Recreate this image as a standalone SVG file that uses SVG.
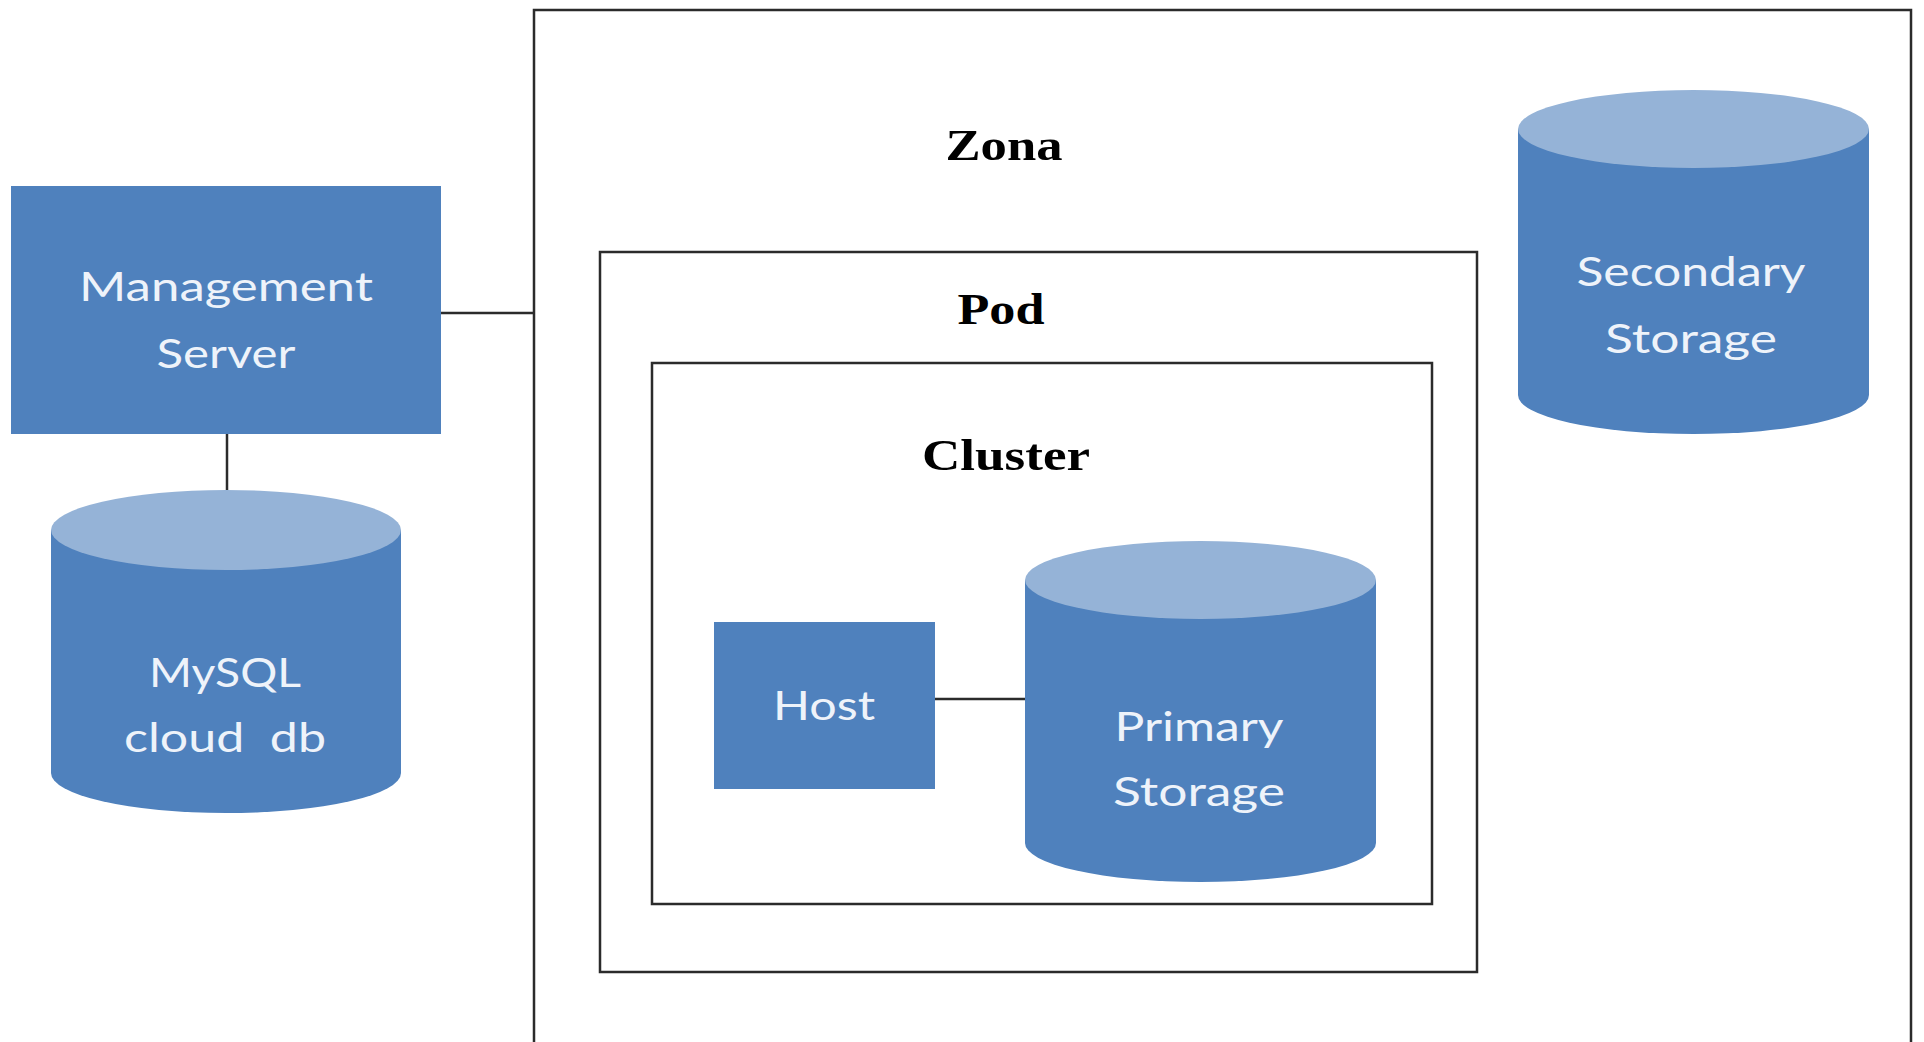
<svg xmlns="http://www.w3.org/2000/svg" width="1924" height="1042" viewBox="0 0 1924 1042">
<style>
.frame{fill:none;stroke:#2b2b2b;stroke-width:2.5}
.box{fill:#4F81BD}
.top{fill:#95B3D7}
.lbl{font-family:Lato,"Open Sans",sans-serif;font-size:40px;fill:#EEF3FA;text-anchor:middle}
.hdr{font-family:"Liberation Serif","DejaVu Serif",serif;font-weight:bold;font-size:44px;fill:#000;text-anchor:middle}
.conn{stroke:#2b2b2b;stroke-width:2.5;fill:none}
</style>
<rect width="1924" height="1042" fill="#fff"/>
<g id="zona">
<rect class="frame" x="534" y="10" width="1377" height="1060"/>
<text class="hdr" x="1004" y="160" textLength="117" lengthAdjust="spacingAndGlyphs">Zona</text>
</g>
<g id="pod">
<rect class="frame" x="600" y="252" width="877" height="720"/>
<text class="hdr" x="1001" y="324" textLength="87" lengthAdjust="spacingAndGlyphs">Pod</text>
</g>
<g id="cluster">
<rect class="frame" x="652" y="363" width="780" height="541"/>
<text class="hdr" x="1006" y="470" textLength="168" lengthAdjust="spacingAndGlyphs">Cluster</text>
</g>
<g id="connectors">
<line class="conn" x1="441" y1="313" x2="534" y2="313"/>
<line class="conn" x1="227" y1="434" x2="227" y2="492"/>
<line class="conn" x1="935" y1="699" x2="1026" y2="699"/>
</g>
<g id="management-server">
<rect class="box" x="11" y="186" width="430" height="248"/>
<text class="lbl" x="226" y="301" textLength="294" lengthAdjust="spacingAndGlyphs">Management</text>
<text class="lbl" x="226" y="368" textLength="139" lengthAdjust="spacingAndGlyphs">Server</text>
</g>
<g id="mysql">
<path class="box" d="M51 530 V773 A175 40 0 0 0 401 773 V530 Z"/>
<ellipse class="top" cx="226" cy="530" rx="175" ry="40"/>
<text class="lbl" x="225" y="687" textLength="152" lengthAdjust="spacingAndGlyphs">MySQL</text>
<text class="lbl" x="225" y="752" textLength="202" lengthAdjust="spacingAndGlyphs" xml:space="preserve">cloud  db</text>
</g>
<g id="secondary-storage">
<path class="box" d="M1518 129 V395 A175 39 0 0 0 1869 395 V129 Z"/>
<ellipse class="top" cx="1693.5" cy="129" rx="175.5" ry="39"/>
<text class="lbl" x="1691" y="286" textLength="229" lengthAdjust="spacingAndGlyphs">Secondary</text>
<text class="lbl" x="1691" y="353" textLength="172" lengthAdjust="spacingAndGlyphs">Storage</text>
</g>
<g id="host">
<rect class="box" x="714" y="622" width="221" height="167"/>
<text class="lbl" x="824" y="720" textLength="102" lengthAdjust="spacingAndGlyphs">Host</text>
</g>
<g id="primary-storage">
<path class="box" d="M1025 580 V843 A175.5 39 0 0 0 1376 843 V580 Z"/>
<ellipse class="top" cx="1200.5" cy="580" rx="175.5" ry="39"/>
<text class="lbl" x="1199" y="741" textLength="169" lengthAdjust="spacingAndGlyphs">Primary</text>
<text class="lbl" x="1199" y="806" textLength="172" lengthAdjust="spacingAndGlyphs">Storage</text>
</g>
</svg>
